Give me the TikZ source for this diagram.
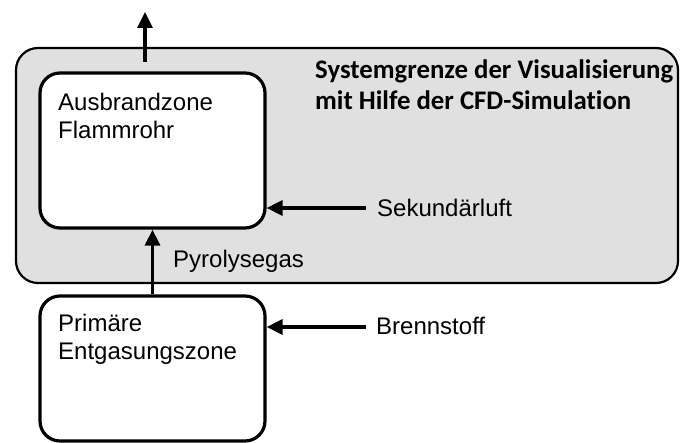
\documentclass[tikz,border=0pt]{standalone}
\usepackage{fontspec}
\setmainfont{Liberation Sans}
\newfontfamily\titlefont[Ligatures=NoCommon]{Carlito}
\usetikzlibrary{arrows.meta}

\definecolor{boundgray}{RGB}{224,224,224}

\tikzset{
  boundary/.style={draw, line width=2.2pt, rounded corners=22pt, fill=boundgray,
    minimum width=662pt, minimum height=235pt, inner sep=0pt},
  zone/.style={draw, line width=3.2pt, rounded corners=20pt, fill=white,
    minimum width=225pt, inner sep=0pt},
  zonetext/.style={anchor=base west, inner sep=0pt, align=left,
    font=\fontsize{24}{28.5}\selectfont},
  flowlabel/.style={anchor=base west, inner sep=0pt,
    font=\fontsize{24}{28.5}\selectfont},
  titletext/.style={anchor=base west, inner sep=0pt, align=left,
    font=\titlefont\bfseries\fontsize{26.8}{31}\selectfont},
  flow/.style={line width=3.2pt, -{Triangle[length=16pt,width=15pt]}}
}

\begin{document}
\begin{tikzpicture}[x=1pt,y=-1pt]
\useasboundingbox (0,0) rectangle (680,443);

% system boundary of the CFD visualisation
\node[boundary] (sys) at (347,165.5) {};
\node[titletext] (systitle) at (315,110)
  {Systemgrenze der Visualisierung\\mit Hilfe der CFD-Simulation};

% combustion zones
\node[zone, minimum height=155pt] (burn) at (152.5,150.5) {};
\node[zone, minimum height=145pt] (prim) at (152.5,368.5) {};
\node[zonetext] (burntext) at (58,139) {Ausbrandzone\\Flammrohr};
\node[zonetext] (primtext) at (58,360) {Primäre\\Entgasungszone};

% exhaust leaving at the top
\coordinate (exhaust) at (145,62);
\coordinate (exout) at (145,12);
\draw[flow] (exhaust) -- (exout);

% pyrolysis gas from primary zone to burnout zone
\draw[flow] (prim.north) -- (burn.south);
\node[flowlabel] (pyro) at (173,268) {Pyrolysegas};

% secondary air
\coordinate (air) at (366,208);
\draw[flow] (air) -- (air -| burn.east);
\node[flowlabel] (airlabel) at (377,217) {Sekundärluft};

% fuel
\coordinate (fuel) at (366,327);
\draw[flow] (fuel) -- (fuel -| prim.east);
\node[flowlabel] (fuellabel) at (376,335) {Brennstoff};
\end{tikzpicture}
\end{document}
